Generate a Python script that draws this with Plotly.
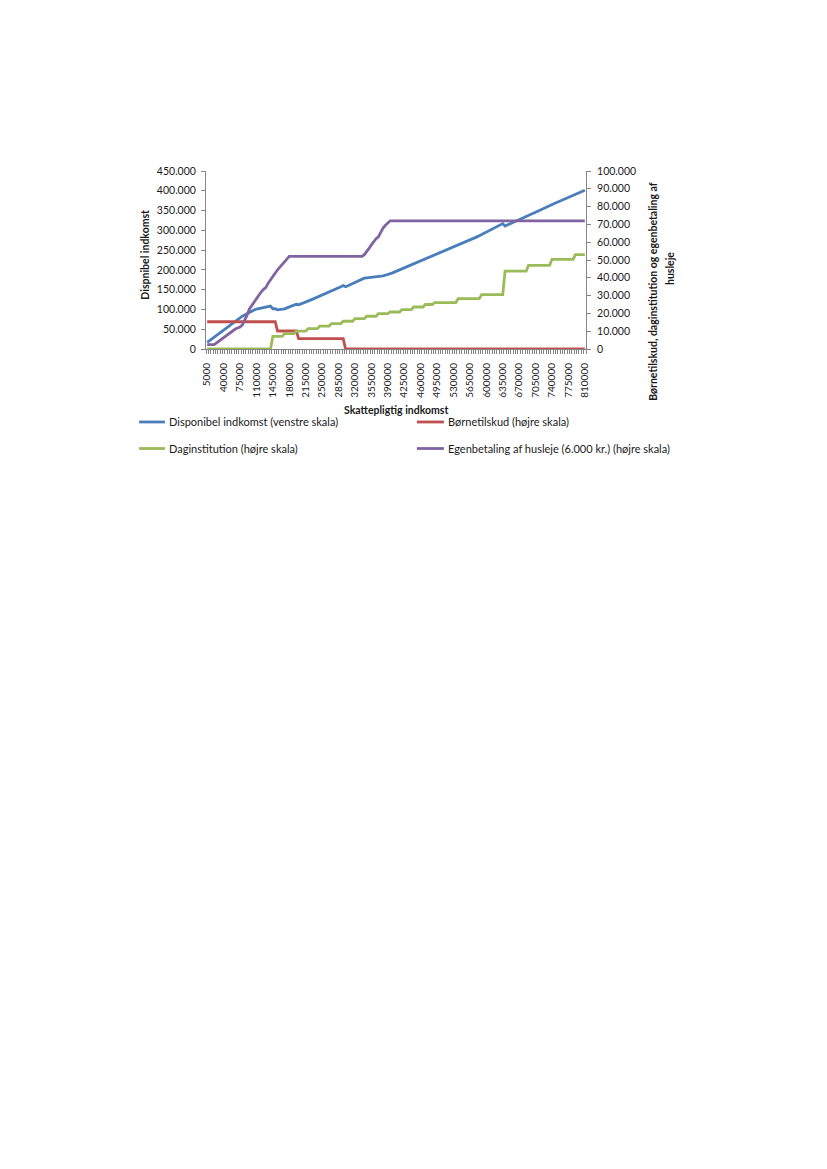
import plotly.graph_objects as go

# Categories: taxable income (5000 .. 810000, step 5000)
income = list(range(5000, 810001, 5000))

# Disponibel indkomst (left axis)
disponibel = [
    17000, 21500, 26000, 31000, 35500, 40000, 44000, 48500, 53000, 57500,
    62000, 66500, 71000, 75500, 80000, 83000, 86000, 89500, 92500, 95500,
    98500, 101000, 102500, 104000, 105000, 106000, 107000, 108500, 101500, 102000,
    99000, 99500, 100500, 101500, 104000, 106500, 109000, 111000, 113000, 112000,
    114000, 116500, 118500, 121000, 123500, 126000, 128500, 131000, 133000, 135500,
    138000, 140500, 143000, 145500, 148500, 151500, 154500, 157500, 160500, 157500,
    160000, 163000, 166000, 169000, 172000, 175000, 178000, 179000, 180000, 180500,
    181500, 182000, 183000, 183500, 184000, 185000, 186500, 188000, 190000, 192500,
    195000, 197500, 200000, 202500, 205000, 207500, 209500, 212000, 214000, 216500,
    219000, 221500, 224000, 226500, 229000, 231500, 234000, 236500, 239000, 241500,
    244000, 246500, 249000, 251500, 254000, 256500, 259000, 261500, 264000, 266500,
    269000, 271500, 274500, 277500, 280500, 283500, 286500, 289500, 292500, 295500,
    298500, 301500, 304500, 307500, 310500, 313500, 317000, 311000, 313500, 316000,
    318500, 321000, 324000, 327000, 330000, 333000, 335500, 338000, 340500, 343000,
    346000, 349000, 352000, 355000, 358000, 361000, 363500, 365500, 368000, 370500,
    373000, 375500, 378000, 380500, 383000, 385500, 388000, 390000, 392500, 395500,
    398500, 401500,
]

# Børnetilskud (right axis)
boernetilskud = [
    15300, 15300, 15300, 15300, 15300, 15300, 15300, 15300, 15300, 15300,
    15300, 15300, 15300, 15300, 15300, 15300, 15300, 15300, 15300, 15300,
    15300, 15300, 15300, 15300, 15300, 15300, 15300, 15300, 15300, 15300,
    10100, 10100, 10100, 10100, 10100, 10100, 10100, 10100, 10100, 5800,
    5800, 5800, 5800, 5800, 5800, 5800, 5800, 5800, 5800, 5800,
    5800, 5800, 5800, 5800, 5800, 5800, 5800, 5800, 5800, 0,
    0, 0, 0, 0, 0, 0, 0, 0, 0, 0,
    0, 0, 0, 0, 0, 0, 0, 0, 0, 0,
    0, 0, 0, 0, 0, 0, 0, 0, 0, 0,
    0, 0, 0, 0, 0, 0, 0, 0, 0, 0,
    0, 0, 0, 0, 0, 0, 0, 0, 0, 0,
    0, 0, 0, 0, 0, 0, 0, 0, 0, 0,
    0, 0, 0, 0, 0, 0, 0, 0, 0, 0,
    0, 0, 0, 0, 0, 0, 0, 0, 0, 0,
    0, 0, 0, 0, 0, 0, 0, 0, 0, 0,
    0, 0, 0, 0, 0, 0, 0, 0, 0, 0,
    0, 0,
]

# Daginstitution (right axis)
daginstitution = [
    0, 0, 0, 0, 0, 0, 0, 0, 0, 0,
    0, 0, 0, 0, 0, 0, 0, 0, 0, 0,
    0, 0, 0, 0, 0, 0, 0, 0, 7100, 7100,
    7100, 7100, 7100, 8650, 8650, 8650, 8650, 8650, 10000, 10000,
    10000, 10000, 10000, 11400, 11400, 11400, 11400, 11400, 12900, 12900,
    12900, 12900, 12900, 14300, 14300, 14300, 14300, 14300, 15600, 15600,
    15600, 15600, 15600, 17100, 17100, 17100, 17100, 17100, 18400, 18400,
    18400, 18400, 18400, 19900, 19900, 19900, 19900, 19900, 20800, 20800,
    20800, 20800, 20800, 22100, 22100, 22100, 22100, 22100, 23600, 23600,
    23600, 23600, 23600, 25000, 25000, 25000, 25000, 26100, 26100, 26100,
    26100, 26100, 26100, 26100, 26100, 26100, 26100, 28300, 28300, 28300,
    28300, 28300, 28300, 28300, 28300, 28300, 28300, 30600, 30600, 30600,
    30600, 30600, 30600, 30600, 30600, 30600, 30600, 43700, 43700, 43700,
    43700, 43700, 43700, 43700, 43700, 43700, 43700, 47000, 47000, 47000,
    47000, 47000, 47000, 47000, 47000, 47000, 47000, 50400, 50400, 50400,
    50400, 50400, 50400, 50400, 50400, 50400, 50400, 53000, 53000, 53000,
    53000, 53000,
]

# Egenbetaling af husleje (right axis)
husleje = [
    2500, 2500, 2500, 2500, 3500, 4500, 5500, 6500, 7500, 8500,
    9500, 10500, 11200, 11800, 12400, 13500, 16000, 19000, 22500, 24500,
    26500, 28500, 30500, 32000, 33500, 34500, 37000, 39000, 41000, 42500,
    44500, 46000, 47500, 49500, 51000, 52000, 52000, 52000, 52000, 52000,
    52000, 52000, 52000, 52000, 52000, 52000, 52000, 52000, 52000, 52000,
    52000, 52000, 52000, 52000, 52000, 52000, 52000, 52000, 52000, 52000,
    52000, 52000, 52000, 52000, 52000, 52000, 52000, 53000, 54500, 56500,
    58500, 60500, 62000, 63000, 65500, 68000, 69500, 71000, 72000, 72000,
    72000, 72000, 72000, 72000, 72000, 72000, 72000, 72000, 72000, 72000,
    72000, 72000, 72000, 72000, 72000, 72000, 72000, 72000, 72000, 72000,
    72000, 72000, 72000, 72000, 72000, 72000, 72000, 72000, 72000, 72000,
    72000, 72000, 72000, 72000, 72000, 72000, 72000, 72000, 72000, 72000,
    72000, 72000, 72000, 72000, 72000, 72000, 72000, 72000, 72000, 72000,
    72000, 72000, 72000, 72000, 72000, 72000, 72000, 72000, 72000, 72000,
    72000, 72000, 72000, 72000, 72000, 72000, 72000, 72000, 72000, 72000,
    72000, 72000, 72000, 72000, 72000, 72000, 72000, 72000, 72000, 72000,
    72000, 72000,
]

x_tick_vals = list(range(5000, 810001, 35000))
x_tick_text = [str(v) for v in x_tick_vals]

series_names = [
    "Disponibel indkomst (venstre skala)",
    "Børnetilskud (højre skala)",
    "Daginstitution (højre skala)",
    "Egenbetaling af husleje (6.000 kr.) (højre skala)",
]
colors = ["#4A7EBB", "#C0504D", "#9BBB59", "#8064A2"]

FONT = "Lato"
AX = "#868686"
TXT = "#1a1a1a"

fig = go.Figure()
fig.add_trace(go.Scatter(x=income, y=disponibel, mode="lines", name=series_names[0],
                         line=dict(color=colors[0], width=2.8), yaxis="y"))
fig.add_trace(go.Scatter(x=income, y=boernetilskud, mode="lines", name=series_names[1],
                         line=dict(color=colors[1], width=2.8), yaxis="y2"))
fig.add_trace(go.Scatter(x=income, y=daginstitution, mode="lines", name=series_names[2],
                         line=dict(color=colors[2], width=2.8), yaxis="y2"))
fig.add_trace(go.Scatter(x=income, y=husleje, mode="lines", name=series_names[3],
                         line=dict(color=colors[3], width=2.8), yaxis="y2"))

fig.update_layout(
    width=827, height=1169, autosize=False,
    margin=dict(l=198, r=249, t=163, b=828),
    paper_bgcolor="white", plot_bgcolor="white",
    separators=",.",
    showlegend=False,
    font=dict(family=FONT, size=10, color=TXT),
    xaxis=dict(
        range=[2500, 812500], showgrid=False, zeroline=False,
        showline=True, linecolor=AX, linewidth=1,
        tickmode="array", tickvals=x_tick_vals, ticktext=x_tick_text,
        tickangle=-90, ticks="", tickfont=dict(family=FONT, size=10, color=TXT),
        ticklabelstandoff=9,
        minor=dict(ticks="outside", ticklen=4, tickcolor=AX, tick0=2500, dtick=5000),
    ),
    yaxis=dict(
        range=[0, 450000], dtick=50000, tickformat=",d",
        showgrid=False, zeroline=False, showline=True, linecolor=AX, linewidth=1,
        ticks="outside", ticklen=4, tickcolor=AX, ticklabelstandoff=3,
        tickfont=dict(family=FONT, size=10.5, color=TXT),
    ),
    yaxis2=dict(
        range=[0, 100000], dtick=10000, tickformat=",d",
        overlaying="y", side="right",
        showgrid=False, zeroline=False, showline=True, linecolor=AX, linewidth=1,
        ticks="outside", ticklen=4, tickcolor=AX, ticklabelstandoff=4,
        tickfont=dict(family=FONT, size=10.5, color=TXT),
    ),
)

annotations = [
    dict(text="<b>Skattepligtig indkomst</b>", x=0.5, y=-0.343, xref="paper", yref="paper",
         showarrow=False, xanchor="center", yanchor="middle", font=dict(size=10.5)),
    dict(text="<b>Dispnibel indkomst</b>", x=-0.1605, y=0.53, xref="paper", yref="paper",
         showarrow=False, textangle=-90, xanchor="center", yanchor="middle", font=dict(size=10.5)),
    dict(text="<b>Børnetilskud, daginstitution og egenbetaling af</b>", x=1.176, y=0.326,
         xref="paper", yref="paper", showarrow=False, textangle=-90,
         xanchor="center", yanchor="middle", font=dict(size=10.5)),
    dict(text="<b>husleje</b>", x=1.221, y=0.455, xref="paper", yref="paper",
         showarrow=False, textangle=-90, xanchor="center", yanchor="middle", font=dict(size=10.5)),
]

# Manual legend (2 columns x 2 rows)
legend_pos = [(-0.176, -0.108, -0.1026, -0.410),
              (0.555, 0.626, 0.6316, -0.410),
              (-0.176, -0.108, -0.1026, -0.559),
              (0.555, 0.626, 0.6316, -0.559)]
shapes = []
for idx, (x0, x1, xt, yy) in enumerate(legend_pos):
    shapes.append(dict(type="line", xref="paper", yref="paper", x0=x0, x1=x1, y0=yy, y1=yy,
                       line=dict(color=colors[idx], width=2.8)))
    annotations.append(dict(text=series_names[idx], x=xt, y=yy, xref="paper", yref="paper",
                            showarrow=False, xanchor="left", yanchor="middle",
                            font=dict(size=11)))

fig.update_layout(annotations=annotations, shapes=shapes)

fig.write_html("out.html")
